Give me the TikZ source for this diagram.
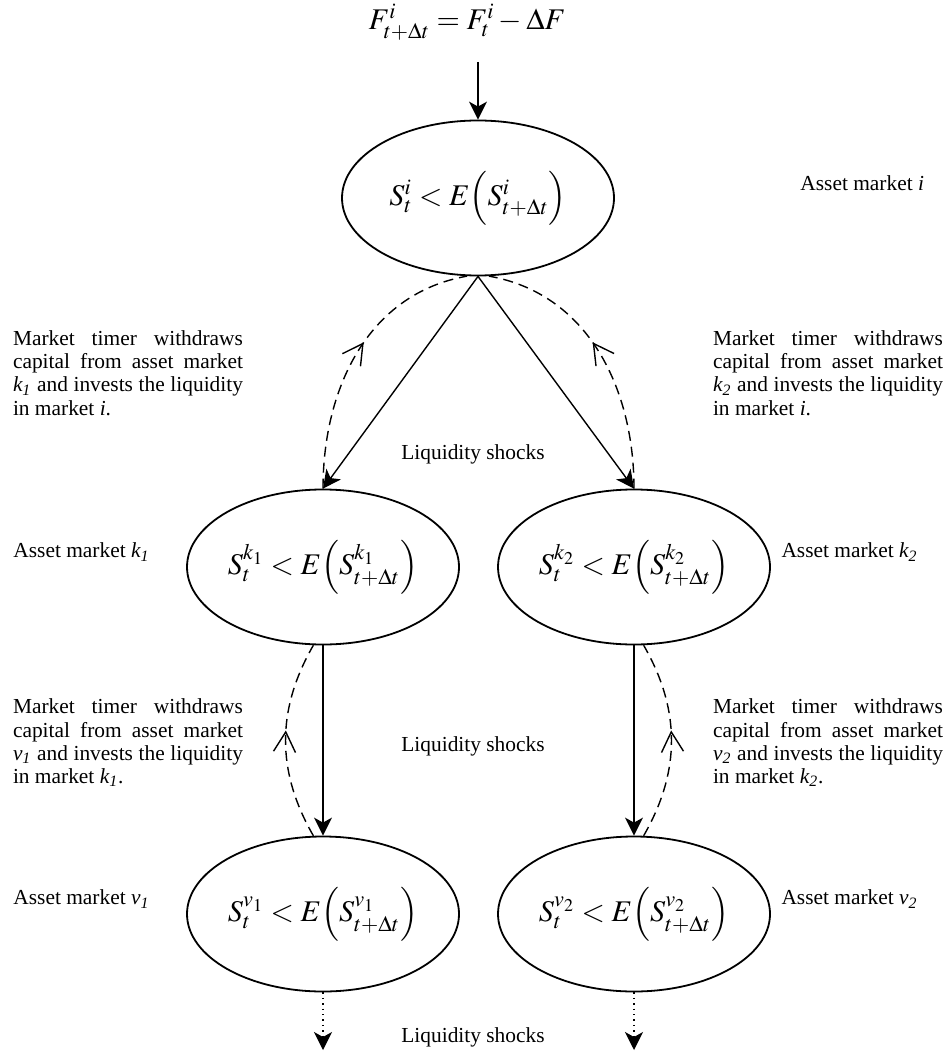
\documentclass[tikz,border=0pt]{standalone}
\usepackage{mathptmx}
\usepackage[no-math]{fontspec}
\setmainfont{Liberation Serif}
\usetikzlibrary{shapes.geometric,arrows.meta,decorations.markings}

\begin{document}
\begin{tikzpicture}[x=0.5pt,y=0.5pt,
  every node/.style={font=\fontsize{10.7}{11.65}\selectfont},
  market/.style={draw,ellipse,line width=0.9pt,inner sep=0pt,minimum width=136pt,minimum height=77.5pt,font=\fontsize{15}{18}\selectfont},
  flow/.style={-{Stealth[length=9pt,width=9pt,inset=2.5pt]},line width=0.7pt},
  backflow/.style={dashed,dash pattern=on 5pt off 3pt,line width=0.7pt,postaction={decorate},
    decoration={markings,mark=at position #1 with {\arrow{Straight Barb[length=10pt,width=11pt,line width=0.7pt]}}}},
  backflow/.default=0.55,
  timer/.style={text width=115pt,align=justify,inner sep=0pt}]
\useasboundingbox (0,0) rectangle (952,-1059);

\node[font=\fontsize{15}{18}\selectfont] (formula) at (467,-22) {$F^{i}_{t+\Delta t}=F^{i}_{t}-\Delta F$};
\coordinate (feed) at (478,-62);

\node[market] (mkt-i) at (478,-198) {$S^{i}_{t}<E\Bigl(S^{i}_{t+\Delta t}\Bigr)$};
\node[market] (mkt-k1) at (323,-567) {$S^{k_1}_{t}<E\Bigl(S^{k_1}_{t+\Delta t}\Bigr)$};
\node[market] (mkt-k2) at (634,-567) {$S^{k_2}_{t}<E\Bigl(S^{k_2}_{t+\Delta t}\Bigr)$};
\node[market] (mkt-v1) at (323,-914) {$S^{v_1}_{t}<E\Bigl(S^{v_1}_{t+\Delta t}\Bigr)$};
\node[market] (mkt-v2) at (634,-914) {$S^{v_2}_{t}<E\Bigl(S^{v_2}_{t+\Delta t}\Bigr)$};

\node[anchor=west,inner sep=0pt] (lbl-i) at (800,-183) {Asset market \textit{i}};
\node[anchor=west,inner sep=0pt] (lbl-k1) at (13,-552) {Asset market \textit{k\textsubscript{1}}};
\node[anchor=east,inner sep=0pt] (lbl-k2) at (918,-552) {Asset market \textit{k\textsubscript{2}}};
\node[anchor=west,inner sep=0pt] (lbl-v1) at (13,-899) {Asset market \textit{v\textsubscript{1}}};
\node[anchor=east,inner sep=0pt] (lbl-v2) at (918,-899) {Asset market \textit{v\textsubscript{2}}};

\node (shock-1) at (473,-454) {Liquidity shocks};
\node (shock-2) at (473,-746) {Liquidity shocks};
\node (shock-3) at (473,-1037) {Liquidity shocks};

\node[timer] (timer-k1) at (128,-373) {Market timer withdraws capital from asset market \textit{k\textsubscript{1}} and invests the liquidity in market \textit{i}.};
\node[timer] (timer-k2) at (828,-373) {Market timer withdraws capital from asset market \textit{k\textsubscript{2}} and invests the liquidity in market \textit{i}.};
\node[timer] (timer-v1) at (128,-743) {Market timer withdraws capital from asset market \textit{v\textsubscript{1}} and invests the liquidity in market \textit{k\textsubscript{1}}.};
\node[timer] (timer-v2) at (828,-743) {Market timer withdraws capital from asset market \textit{v\textsubscript{2}} and invests the liquidity in market \textit{k\textsubscript{2}}.};

\coordinate (out-v1) at (323,-1050);
\coordinate (out-v2) at (634,-1050);

% liquidity shocks
\draw[flow] (feed) -- (mkt-i);
\draw[flow] (mkt-i.south) -- (mkt-k1.north);
\draw[flow] (mkt-i.south) -- (mkt-k2.north);
\draw[flow] (mkt-k1) -- (mkt-v1);
\draw[flow] (mkt-k2) -- (mkt-v2);
\draw[flow,dotted] (mkt-v1.south) -- (out-v1);
\draw[flow,dotted] (mkt-v2.south) -- (out-v2);

% capital moved back by the market timer
\draw[backflow] (mkt-k1.north) to[out=90,in=190] (mkt-i.262);
\draw[backflow] (mkt-k2.north) to[out=90,in=-10] (mkt-i.278);
\draw[backflow] (mkt-v1.97) to[out=120,in=-120] (mkt-k1.263);
\draw[backflow] (mkt-v2.83) to[out=60,in=-60] (mkt-k2.277);
\end{tikzpicture}
\end{document}
